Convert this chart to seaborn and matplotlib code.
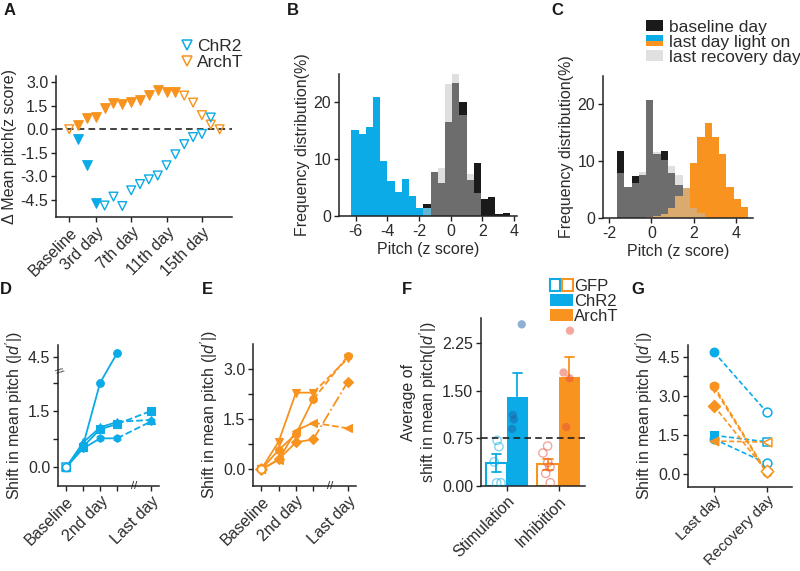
import numpy as np
import pandas as pd
import seaborn as sns
import matplotlib.pyplot as plt
from matplotlib.lines import Line2D
from matplotlib.patches import Patch, Rectangle
from matplotlib.legend_handler import HandlerBase, HandlerTuple
from matplotlib.transforms import blended_transform_factory
from matplotlib.colors import to_rgba

BLUE = "#0aabe6"
ORANGE = "#f7931e"
BLACK = "#1a1a1a"
LIGHT = "#c1c1c1"
TEXT = "#2b2b2b"
CHR2_DOT = "#1f64a8"
ARCHT_DOT = "#e8503c"

# ---------------- data ----------------
# A: mean pitch shift per day (z score); True = light on
archt_day = [0, 1, 2, 3, 4, 5, 6, 7, 8, 9, 10, 11, 12, 13, 14, 15, 16, 17]
archt_shift = [0.0, 0.28, 0.7, 0.8, 1.35, 1.65, 1.6, 1.75, 1.85, 2.2, 2.5, 2.35, 2.4,
               2.15, 1.7, 0.9, 0.3, 0.0]
archt_light = [False] + [True] * 12 + [False] * 5
chr2_day = [1, 2, 3, 4, 5, 6, 7, 8, 9, 10, 11, 12, 13, 14, 15, 16]
chr2_shift = [-0.64, -2.28, -4.7, -4.87, -4.3, -4.9, -3.9, -3.5, -3.2, -2.95, -2.3,
              -1.6, -0.95, -0.5, -0.3, 0.75]
chr2_light = [True] * 3 + [False] * 13
a_ticks = [0, 3, 7, 11, 15]
a_ticklabels = ["Baseline", "3rd day", "7th day", "11th day", "15th day"]

# B: pitch histograms (%), ChR2 mouse
b_bin_start, b_bin_width = -6.27, 0.455
b_baseline = [0, 0, 0, 0, 0, 0, 0, 0, 0, 0, 2.2, 7.8, 5.75, 16.5, 23.5, 20.0, 6.3, 9.3,
              3.0, 3.3, 0.3, 0.6]
b_light = [15.2, 14.4, 15.7, 21.0, 9.6, 6.2, 4.2, 6.6, 3.6, 1.4, 1.4, 0, 0, 0, 0, 0, 0,
           0, 0, 0, 0, 0]
b_recovery = [0, 0, 0, 0, 0, 0, 0, 0, 0, 0, 1.4, 7.8, 8.4, 23.2, 25.0, 17.8, 7.4, 4.0,
              0, 0, 0, 0]

# C: pitch histograms (%), ArchT mouse
c_bin_start, c_bin_width = -1.63, 0.345
c_baseline = [11.8, 5.4, 7.4, 7.6, 20.8, 11.25, 11.8, 8.0, 5.8, 0, 0, 0, 0, 0, 0, 0, 0, 0]
c_light = [0, 0, 0, 0, 0.2, 0.4, 0.75, 1.75, 3.8, 5.25, 9.7, 14.2, 16.7, 14.2, 11.25,
           5.5, 3.3, 2.0]
c_recovery = [7.9, 5.4, 6.2, 8.1, 20.8, 11.7, 10.2, 9.15, 7.6, 5.3, 1.8, 0.8, 0, 0, 0,
              0, 0, 0]

# D / E: |d'| per session (Baseline, day 1, 2nd day, day 3, Last day)
sessions = [0, 1, 2, 3, 5]
session_labels = {0: "Baseline", 2: "2nd day", 5: "Last day"}
d_circle = [0, 0.59, 2.25, 4.7, np.nan]
d_triangle = [0, 0.66, 1.06, 1.21, 1.26]
d_square = [0, 0.55, 1.01, 1.15, 1.5]
d_hexagon = [0, 0.5, 0.77, 0.77, 1.22]
e_circle = [0, 0.58, 1.06, 2.1, 3.4]
e_down = [0, 0.83, 2.3, 2.3, 3.33]
e_diamond = [0, 0.3, 0.81, 0.9, 2.63]
e_left = [0, 0.28, 1.16, 1.4, 1.23]

# F: average |d'| per mouse
f_conditions = ["Stimulation", "Inhibition"]
gfp_stim = [0.72, 0.62, 0.38, 0.05, 0.05]
chr2_stim = [2.55, 1.12, 1.05, 0.90]
gfp_inhib = [0.63, 0.52, 0.37, 0.30, 0.20, 0.05]
archt_inhib = [2.45, 1.79, 1.70, 0.93]

# G: last day vs recovery day
g_labels = ["Last day", "Recovery day"]
g_chr2_last = [4.68, 1.47, 1.33]
g_chr2_recovery = [2.37, 1.22, 0.39]
g_chr2_markers = ["o", "s", "o"]
g_archt_last = [3.38, 3.30, 2.61, 1.25]
g_archt_recovery = [0.05, 0.02, 0.08, 1.21]
g_archt_markers = ["o", "v", "D", "<"]

# ---------------- style ----------------
sns.set_theme(style="ticks")
plt.rcParams["font.family"] = ["Liberation Sans", "DejaVu Sans"]
plt.rcParams.update({
    "axes.unicode_minus": False,
    "mathtext.fontset": "custom",
    "mathtext.rm": "Liberation Sans",
    "mathtext.it": "Liberation Sans:italic",
    "font.size": 11.5,
    "axes.labelsize": 11.5,
    "xtick.labelsize": 11.5,
    "ytick.labelsize": 11.5,
    "axes.linewidth": 1.1,
    "axes.edgecolor": "#222222",
    "axes.labelcolor": TEXT,
    "text.color": TEXT,
    "xtick.color": "#222222",
    "ytick.color": "#222222",
    "xtick.labelcolor": TEXT,
    "ytick.labelcolor": TEXT,
    "xtick.major.size": 3.5,
    "ytick.major.size": 3.5,
    "ytick.minor.size": 3.5,
    "xtick.major.width": 1.0,
    "ytick.major.width": 1.0,
    "ytick.minor.width": 1.0,
    "xtick.major.pad": 2,
    "ytick.major.pad": 2,
    "axes.labelpad": 2.5,
})

fig = plt.figure(figsize=(8, 5.71), dpi=100)
W, H = 800, 571


def add_ax(left, top, right, bottom):
    return fig.add_axes([left / W, 1 - bottom / H, (right - left) / W, (bottom - top) / H])


def rot_labels(ax, size=None):
    for lab in ax.get_xticklabels():
        lab.set_rotation(45)
        lab.set_ha("right")
        lab.set_rotation_mode("anchor")
        if size:
            lab.set_fontsize(size)


def xbreak(ax, x):
    tr = blended_transform_factory(ax.transData, ax.transAxes)
    ax.text(x, 0, "//", transform=tr, ha="center", va="center", fontsize=8,
            color="#222222", clip_on=False)


# ---------------- A ----------------
axA = add_ax(56, 76, 232, 217)
dfa = pd.DataFrame({"day": archt_day, "shift": archt_shift, "light": archt_light})
dfc = pd.DataFrame({"day": chr2_day, "shift": chr2_shift, "light": chr2_light})
axA.axhline(0, color="#222222", ls=(0, (4, 2.5)), lw=1.2, zorder=1)
for df, col in [(dfa, ORANGE), (dfc, BLUE)]:
    on = df[df["light"]]
    off = df[~df["light"]]
    sns.scatterplot(x=on["day"], y=on["shift"], marker="v", s=48, color=col,
                    edgecolor=col, linewidth=0.8, ax=axA, zorder=3)
    sns.scatterplot(x=off["day"], y=off["shift"], marker="v", s=40, color=col,
                    facecolor="none", edgecolor=col, linewidth=1.0, ax=axA, zorder=3)
axA.set_xlim(-1.5, 18.4)
axA.set_ylim(-5.6, 3.4)
axA.set_xticks(a_ticks)
axA.set_xticklabels(a_ticklabels)
axA.set_yticks([3, 1.5, 0, -1.5, -3, -4.5])
axA.set_yticklabels(["3.0", "1.5", "0.0", "-1.5", "-3.0", "-4.5"])
axA.set_xlabel("")
axA.set_ylabel("Δ Mean pitch(z score)")
rot_labels(axA)
sns.despine(ax=axA)
a_handles = [Line2D([], [], marker="v", ls="none", mfc="none", mec=c, mew=1.1, ms=7)
             for c in (BLUE, ORANGE)]
fig.legend(a_handles, ["ChR2", "ArchT"], loc="upper left",
           bbox_to_anchor=(180 / W, 1 - 39 / H), frameon=False, fontsize=12.5,
           handlelength=0.8, handletextpad=0.2, labelspacing=0.05, borderpad=0,
           borderaxespad=0)


# ---------------- B / C histograms ----------------
def draw_hist(ax, start, width, baseline, light, recovery, light_color):
    left_edges = start + width * np.arange(len(baseline))
    ax.bar(left_edges, baseline, width=width, align="edge", color=BLACK, lw=0)
    ax.bar(left_edges, light, width=width, align="edge", color=light_color, lw=0)
    ax.bar(left_edges, recovery, width=width, align="edge", color=LIGHT, alpha=0.5, lw=0)
    ax.set_ylim(0, 25)
    ax.set_yticks([0, 10, 20])
    ax.set_xlabel("Pitch (z score)")
    ax.set_ylabel("Frequency distribution(%)")
    sns.despine(ax=ax)


axB = add_ax(339, 74, 517, 216)
draw_hist(axB, b_bin_start, b_bin_width, b_baseline, b_light, b_recovery, BLUE)
axB.set_xlim(-7.06, 4.2)
axB.set_xticks([-6, -4, -2, 0, 2, 4])

axC = add_ax(603, 76, 753, 218)
draw_hist(axC, c_bin_start, c_bin_width, c_baseline, c_light, c_recovery, ORANGE)
axC.set_xlim(-2.29, 4.8)
axC.set_xticks([-2, 0, 2, 4])


class SplitHandler(HandlerBase):
    def create_artists(self, legend, orig_handle, xdescent, ydescent, width, height,
                       fontsize, trans):
        top = Rectangle((-xdescent, -ydescent + height / 2), width, height / 2,
                        facecolor=BLUE, lw=0, transform=trans)
        bot = Rectangle((-xdescent, -ydescent), width, height / 2,
                        facecolor=ORANGE, lw=0, transform=trans)
        return [top, bot]


split = Patch()
c_handles = [Patch(facecolor=BLACK, lw=0), split, Patch(facecolor="#e0e0e0", lw=0)]
fig.legend(c_handles, ["baseline day", "last day light on", "last recovery day"],
           handler_map={split: SplitHandler()}, loc="upper left",
           bbox_to_anchor=(646 / W, 1 - 20 / H), frameon=False, fontsize=12.5,
           handlelength=1.0, handleheight=0.6, handletextpad=0.3, labelspacing=0.0,
           borderpad=0, borderaxespad=0)


# ---------------- D / E ----------------
def draw_animal(ax, values, marker, color, tail_ls="--"):
    x = np.array(sessions, dtype=float)
    v = np.array(values, dtype=float)
    sns.lineplot(x=x[:4], y=v[:4], color=color, lw=1.3, marker=marker, ms=5.5,
                 mfc=color, mec=color, mew=0.8, errorbar=None, ax=ax)
    if not np.isnan(v[4]):
        sns.lineplot(x=x[3:], y=v[3:], color=color, lw=1.3, linestyle=tail_ls,
                     marker=marker, ms=5.5, markevery=[1], mfc=color, mec=color,
                     mew=0.8, errorbar=None, ax=ax)
    sns.scatterplot(x=x[:1], y=v[:1], marker=marker, s=32, color="white",
                    facecolor="white", edgecolor=color, linewidth=1.1, zorder=5, ax=ax)


def session_axis(ax, ylabel="Shift in mean pitch (|$d'$|)"):
    ax.set_xlim(-0.48, 5.47)
    ax.set_xticks(sessions)
    ax.set_xticklabels([session_labels.get(s, "") for s in sessions])
    rot_labels(ax)
    ax.set_ylabel(ylabel)
    ax.set_xlabel("")
    xbreak(ax, 4)
    sns.despine(ax=ax)


B1, B2, K, EPS = 2.55, 3.65, 0.445, 0.02
Z1 = B1 + (B2 - B1) * EPS


def fwd(y):
    y = np.asarray(y, dtype=float)
    return np.where(y <= B1, y, np.where(y <= B2, B1 + (y - B1) * EPS, Z1 + (y - B2) * K))


def inv(z):
    z = np.asarray(z, dtype=float)
    return np.where(z <= B1, z, np.where(z <= Z1, B1 + (z - B1) / EPS, B2 + (z - Z1) / K))


axD = add_ax(58, 345, 159, 486)
axD.set_yscale("function", functions=(fwd, inv))
for vals, mk in [(d_hexagon, "h"), (d_square, "s"), (d_triangle, "^"), (d_circle, "o")]:
    draw_animal(axD, vals, mk, BLUE)
axD.set_ylim(-0.5, 5.19)
axD.set_yticks([0, 1.5, 4.5])
axD.set_yticklabels(["0.0", "1.5", "4.5"])
axD.set_yticks([0.75, 2.25], minor=True)
session_axis(axD)
trD = blended_transform_factory(axD.transAxes, axD.transData)
axD.text(0, 3.1, "//", transform=trD, ha="center", va="center", fontsize=7,
         rotation=-60, color="#222222", clip_on=False)

axE = add_ax(253, 344, 356, 486)
for vals, mk, ls in [(e_left, "<", "--"), (e_diamond, "D", "-."), (e_down, "v", "--"),
                     (e_circle, "o", "--")]:
    draw_animal(axE, vals, mk, ORANGE, ls)
axE.set_ylim(-0.5, 3.76)
axE.set_yticks([0, 1.5, 3.0])
axE.set_yticklabels(["0.0", "1.5", "3.0"])
axE.set_yticks([0.75, 2.25], minor=True)
session_axis(axE)

# ---------------- F ----------------
axF = add_ax(481, 318, 585, 486)
f_df = pd.DataFrame({
    "condition": ["Stimulation"] * (len(gfp_stim) + len(chr2_stim))
    + ["Inhibition"] * (len(gfp_inhib) + len(archt_inhib)),
    "virus": ["GFP"] * len(gfp_stim) + ["Opsin"] * len(chr2_stim)
    + ["GFP"] * len(gfp_inhib) + ["Opsin"] * len(archt_inhib),
    "shift": gfp_stim + chr2_stim + gfp_inhib + archt_inhib,
})
sns.barplot(data=f_df, x="condition", y="shift", hue="virus", order=f_conditions,
            hue_order=["GFP", "Opsin"], errorbar="se", capsize=0.35, width=0.82,
            err_kws={"linewidth": 1.3}, legend=False, ax=axF)
for p in axF.patches:
    cx = p.get_x() + p.get_width() / 2
    col = BLUE if cx < 0.5 else ORANGE
    is_gfp = (cx < 0) if cx < 0.5 else (cx < 1)
    if is_gfp:
        p.set_facecolor("white")
        p.set_edgecolor(col)
        p.set_linewidth(1.5)
    else:
        p.set_facecolor(col)
        p.set_edgecolor(col)
        p.set_linewidth(0)
for ln in axF.lines:
    ln.set_color(BLUE if np.nanmean(ln.get_xdata()) < 0.5 else ORANGE)
n_before = len(axF.collections)
np.random.seed(3)
sns.stripplot(data=f_df, x="condition", y="shift", hue="virus", order=f_conditions,
              hue_order=["GFP", "Opsin"], dodge=True, jitter=0.22, size=6,
              legend=False, ax=axF, zorder=4)
for coll in axF.collections[n_before:]:
    off = coll.get_offsets()
    if len(off) == 0:
        continue
    mx = off[:, 0].mean()
    stim = mx < 0.5
    gfp = (mx < 0) if stim else (mx < 1)
    dot = CHR2_DOT if stim else ARCHT_DOT
    if gfp:
        coll.set_facecolor("none")
        coll.set_edgecolor(to_rgba(BLUE if stim else ARCHT_DOT, 0.5))
        coll.set_linewidth(1.0)
    else:
        coll.set_facecolor(to_rgba(dot, 0.5))
        coll.set_edgecolor("none")
axF.axhline(0.75, color="#222222", ls=(0, (4, 2.5)), lw=1.2, zorder=5)
axF.set_xlim(-0.5, 1.51)
axF.set_ylim(0, 2.65)
axF.set_yticks([0, 0.75, 1.5, 2.25])
axF.set_yticklabels(["0.00", "0.75", "1.50", "2.25"])
axF.set_xlabel("")
axF.set_ylabel("Average of\nshift in mean pitch(|$d'$|)", linespacing=1.05)
rot_labels(axF)
sns.despine(ax=axF)
gfp_handle = (Patch(facecolor="white", edgecolor=BLUE, lw=1.5),
              Patch(facecolor="white", edgecolor=ORANGE, lw=1.5))
fig.legend([gfp_handle, Patch(facecolor=BLUE, lw=0), Patch(facecolor=ORANGE, lw=0)],
           ["GFP", "ChR2", "ArchT"], handler_map={tuple: HandlerTuple(ndivide=None, pad=0.1)},
           loc="upper left", bbox_to_anchor=(550 / W, 1 - 279 / H), frameon=False,
           fontsize=12, handlelength=1.35, handleheight=0.7, handletextpad=0.1,
           labelspacing=0.0, borderpad=0, borderaxespad=0)

# ---------------- G ----------------
axG = add_ax(688, 345, 792, 487)
for last, rec, mk, col in ([(a, b, m, BLUE) for a, b, m in zip(g_chr2_last, g_chr2_recovery, g_chr2_markers)]
                           + [(a, b, m, ORANGE) for a, b, m in zip(g_archt_last, g_archt_recovery, g_archt_markers)]):
    sns.lineplot(x=[0, 1], y=[last, rec], color=col, lw=1.2, linestyle=(0, (3, 1.6)),
                 errorbar=None, ax=axG)
    sns.scatterplot(x=[0], y=[last], marker=mk, s=40, color=col, edgecolor=col,
                    linewidth=0.8, zorder=4, ax=axG)
    sns.scatterplot(x=[1], y=[rec], marker=mk, s=40, color="white", facecolor="white",
                    edgecolor=col, linewidth=1.1, zorder=4, ax=axG)
axG.set_xlim(-0.49, 1.48)
axG.set_ylim(-0.52, 4.95)
axG.set_xticks([0, 1])
axG.set_xticklabels(g_labels)
axG.set_yticks([0, 1.5, 3.0, 4.5])
axG.set_yticklabels(["0.0", "1.5", "3.0", "4.5"])
axG.set_yticks([0.75, 2.25, 3.75], minor=True)
axG.set_xlabel("")
axG.set_ylabel("Shift in mean pitch (|$d'$|)")
axG.tick_params(axis="x", pad=1)
rot_labels(axG, size=10.8)
sns.despine(ax=axG)

# ---------------- panel letters ----------------
for letter, x, y in [("A", 4, 3), ("B", 287, 3), ("C", 551, 3), ("D", 0, 282),
                     ("E", 202, 282), ("F", 402, 282), ("G", 631, 282)]:
    fig.text(x / W, 1 - y / H, letter, fontsize=12, fontweight="bold", va="top",
             ha="left", color="#1a1a1a")

fig.savefig("out.png", dpi=100)
